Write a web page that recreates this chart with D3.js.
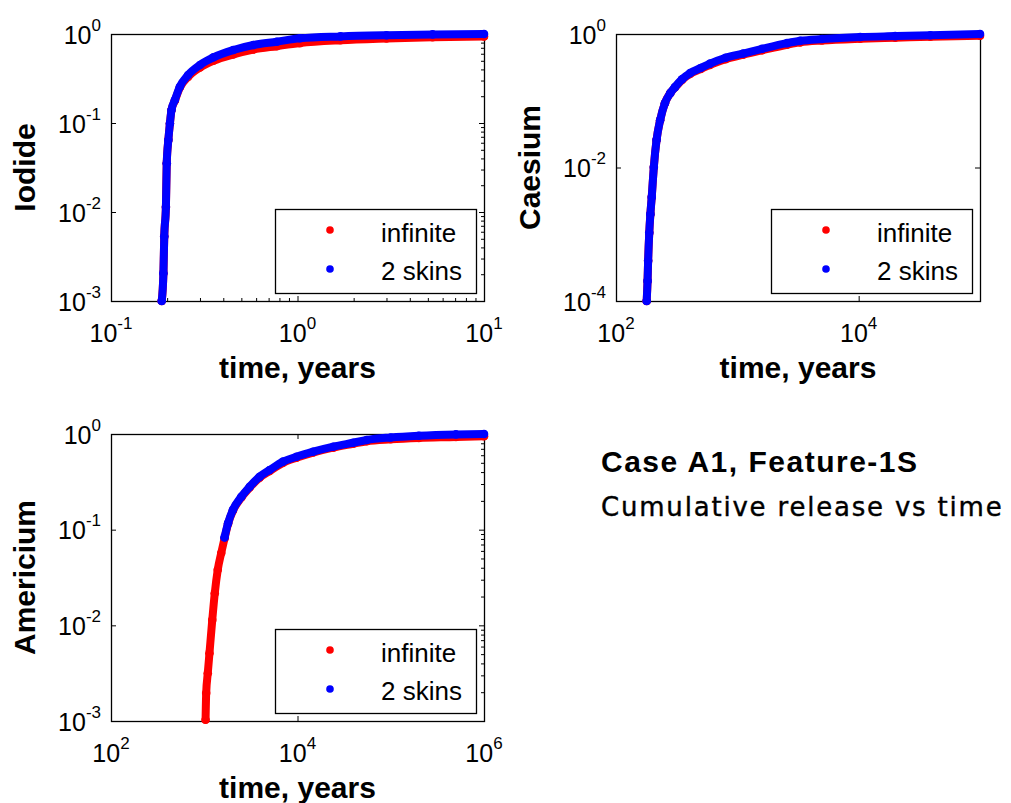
<!DOCTYPE html>
<html>
<head>
<meta charset="utf-8">
<script src="https://cdn.jsdelivr.net/npm/d3@7"></script>
<style>
  html, body { margin: 0; padding: 0; background: #fff; }
  svg { display: block; }
  text { font-family: "Liberation Sans", Arial, sans-serif; fill: #000; }
</style>
</head>
<body>
<svg id="chart" width="1011" height="803"></svg>
<script>
// ---------------- data ----------------
const seriesNames = ["infinite", "2 skins"];
const seriesColors = ["#ff0000", "#0000ff"];

// Iodide: cumulative release fraction vs time (years)
const iodideTime      = [0.187, 0.191, 0.193, 0.197, 0.199, 0.203, 0.207, 0.211, 0.220, 0.234, 0.259, 0.300, 0.354, 0.453, 0.580, 0.774, 1.03, 1.7, 3, 5.3, 10];
const iodideInfinite  = [0.001, 0.00205, 0.0053, 0.0114, 0.0352, 0.0644, 0.099, 0.14, 0.178, 0.25, 0.33, 0.42, 0.50, 0.59, 0.67, 0.73, 0.79, 0.85, 0.89, 0.92, 0.94];
const iodideTwoSkins  = [0.001, 0.00205, 0.0053, 0.0114, 0.0352, 0.0644, 0.099, 0.14, 0.181, 0.256, 0.346, 0.449, 0.547, 0.661, 0.752, 0.819, 0.895, 0.94, 0.97, 0.99, 1.0];

// Caesium
const caesiumTime     = [179, 182, 184, 188, 192, 197, 205, 216, 231, 253, 280, 306, 350, 408, 500, 596, 800, 1117, 1600, 2570, 3300, 5000, 10300, 20000, 39000, 100000];
const caesiumInfinite = [1e-4, 2e-4, 4e-4, 1.05e-3, 2e-3, 3.6e-3, 0.0102, 0.026, 0.051, 0.092, 0.13, 0.158, 0.205, 0.252, 0.30, 0.345, 0.42, 0.49, 0.57, 0.69, 0.75, 0.80, 0.85, 0.88, 0.91, 0.94];
const caesiumTwoSkins = [1e-4, 2e-4, 4e-4, 1.05e-3, 2e-3, 3.6e-3, 0.0102, 0.026, 0.051, 0.092, 0.13, 0.16, 0.21, 0.26, 0.31, 0.36, 0.44, 0.51, 0.60, 0.73, 0.79, 0.84, 0.90, 0.93, 0.96, 1.0];

// Americium
const americiumTime         = [1033, 1049, 1091, 1137, 1219, 1296, 1395, 1521, 1650, 1800, 2030, 2500, 3070, 3930, 5030, 7000, 9750, 14700, 24200, 39600, 55200, 100000, 200000, 500000, 1000000];
const americiumInfinite     = [0.00103, 0.00196, 0.00316, 0.0051, 0.0114, 0.0216, 0.038, 0.057, 0.081, 0.115, 0.158, 0.217, 0.276, 0.35, 0.41, 0.50, 0.565, 0.64, 0.72, 0.79, 0.84, 0.88, 0.91, 0.93, 0.95];
const americiumTwoSkinsTime = [1650, 1800, 2030, 2500, 3070, 3930, 5030, 7000, 9750, 14700, 24200, 39600, 55200, 100000, 200000, 500000, 1000000];
const americiumTwoSkins     = [0.083, 0.117, 0.161, 0.221, 0.281, 0.358, 0.421, 0.514, 0.579, 0.653, 0.737, 0.811, 0.866, 0.92, 0.96, 0.99, 1.0];

// tick exponents (labels are drawn as 10^n)
const iodideXTicks    = [-1, 0, 1];
const iodideYTicks    = [0, -1, -2, -3];
const caesiumXTicks   = [2, 4];
const caesiumYTicks   = [0, -2, -4];
const americiumXTicks = [2, 4, 6];
const americiumYTicks = [0, -1, -2, -3];

const xLabelText   = "time, years";
const titleText    = "Case A1, Feature-1S";
const subtitleText = "Cumulative release vs time";

// ---------------- layout ----------------
const zip = (t, v) => t.map((d, i) => [d, v[i]]);

const panels = [
  { name: "Iodide", box: [111, 34, 484, 301], xDomain: [0.1, 10], yDomain: [1e-3, 1],
    xTicks: iodideXTicks, yTicks: iodideYTicks, minorBottom: true, minorRight: true,
    series: [zip(iodideTime, iodideInfinite), zip(iodideTime, iodideTwoSkins)] },
  { name: "Caesium", box: [616, 34, 980, 301], xDomain: [1e2, 1e5], yDomain: [1e-4, 1],
    xTicks: caesiumXTicks, yTicks: caesiumYTicks, minorBottom: false, minorRight: false,
    series: [zip(caesiumTime, caesiumInfinite), zip(caesiumTime, caesiumTwoSkins)] },
  { name: "Americium", box: [111, 434, 484, 721], xDomain: [1e2, 1e6], yDomain: [1e-3, 1],
    xTicks: americiumXTicks, yTicks: americiumYTicks, minorBottom: false, minorRight: true,
    series: [zip(americiumTime, americiumInfinite), zip(americiumTwoSkinsTime, americiumTwoSkins)] }
];

const svg = d3.select("#chart");

// minor tick values 2..9 x 10^k inside a log domain
function minorValues(domain) {
  const out = [];
  const lo = Math.floor(Math.log10(domain[0])), hi = Math.ceil(Math.log10(domain[1]));
  for (let e = lo; e < hi; e++) {
    for (let k = 2; k <= 9; k++) {
      const v = k * Math.pow(10, e);
      if (v > domain[0] && v < domain[1]) out.push(v);
    }
  }
  return out;
}

function powerLabel(g, x, y, exp, anchor) {
  const t = g.append("text")
    .attr("x", x).attr("y", y)
    .attr("text-anchor", anchor)
    .style("font-size", "25px");
  t.append("tspan").text("10");
  t.append("tspan").attr("dy", -13).style("font-size", "17px").text(String(exp));
}

panels.forEach(p => {
  const [L, T, R, B] = p.box;
  const x = d3.scaleLog().domain(p.xDomain).range([L, R]);
  const y = d3.scaleLog().domain(p.yDomain).range([B, T]);
  const g = svg.append("g");

  // inward ticks on all four sides
  function ticks(axisFn, scale, vals, tx, ty, len) {
    const a = g.append("g")
      .attr("transform", `translate(${tx},${ty})`)
      .call(axisFn(scale).tickValues(vals).tickSizeInner(-len).tickSizeOuter(0).tickFormat(""));
    a.select(".domain").remove();
    a.selectAll("line").attr("stroke", "#000").attr("stroke-width", 1);
  }
  const xt = p.xTicks.map(e => Math.pow(10, e));
  const yt = p.yTicks.map(e => Math.pow(10, e));
  ticks(d3.axisBottom, x, xt, 0, B, 5);
  ticks(d3.axisTop, x, xt, 0, T, 5);
  ticks(d3.axisLeft, y, yt, L, 0, 5);
  ticks(d3.axisRight, y, yt, R, 0, 5);
  if (p.minorBottom) ticks(d3.axisBottom, x, minorValues(p.xDomain), 0, B, 3);
  if (p.minorRight) ticks(d3.axisRight, y, minorValues(p.yDomain), R, 0, 3);

  // axes box
  g.append("rect")
    .attr("x", L + 0.5).attr("y", T + 0.5)
    .attr("width", R - L).attr("height", B - T)
    .attr("fill", "none").attr("stroke", "#000").attr("stroke-width", 1.3);

  // tick labels
  xt.forEach((v, i) => powerLabel(g, x(v), B + 41, p.xTicks[i], "middle"));
  yt.forEach((v, i) => powerLabel(g, L - 10, y(v) + 9.5, p.yTicks[i], "end"));

  // axis titles
  g.append("text")
    .attr("x", (L + R) / 2).attr("y", B + 77)
    .attr("text-anchor", "middle")
    .style("font-size", "30px").style("font-weight", "bold")
    .text(xLabelText);
  g.append("text")
    .attr("transform", `translate(${L - 76},${(T + B) / 2}) rotate(-90)`)
    .attr("text-anchor", "middle")
    .style("font-size", "30px").style("font-weight", "bold")
    .text(p.name);

  // series: dense dot markers, drawn as a thick band plus dots
  const line = d3.line().x(d => x(d[0])).y(d => y(d[1])).curve(d3.curveMonotoneX);
  p.series.forEach((data, si) => {
    const col = seriesColors[si];
    g.append("path")
      .datum(data)
      .attr("d", line)
      .attr("fill", "none")
      .attr("stroke", col)
      .attr("stroke-width", 8)
      .attr("stroke-linecap", "round")
      .attr("stroke-linejoin", "round");
    g.selectAll(null)
      .data(data)
      .enter().append("circle")
      .attr("cx", d => x(d[0])).attr("cy", d => y(d[1]))
      .attr("r", 4.3)
      .attr("fill", col);
  });

  // legend
  const lx = R - 209, ly = B - 92;
  const lg = g.append("g");
  lg.append("rect")
    .attr("x", lx + 0.5).attr("y", ly + 0.5)
    .attr("width", 201).attr("height", 84)
    .attr("fill", "#fff").attr("stroke", "#000").attr("stroke-width", 1.3);
  seriesNames.forEach((name, i) => {
    lg.append("circle")
      .attr("cx", lx + 55).attr("cy", ly + 21 + i * 39)
      .attr("r", 3.8).attr("fill", seriesColors[i]);
    lg.append("text")
      .attr("x", lx + 106).attr("y", ly + 33 + i * 38)
      .style("font-size", "26px")
      .text(name);
  });
});

// annotation text
svg.append("text")
  .attr("x", 601).attr("y", 472)
  .style("font-size", "30px").style("font-weight", "bold")
  .style("letter-spacing", "1.5px")
  .text(titleText);
svg.append("text")
  .attr("x", 601).attr("y", 516)
  .style("font-family", "'DejaVu Sans', sans-serif")
  .style("font-size", "26px")
  .style("letter-spacing", "1.8px")
  .style("stroke", "#000").style("stroke-width", "0.4px")
  .text(subtitleText);
</script>
</body>
</html>
